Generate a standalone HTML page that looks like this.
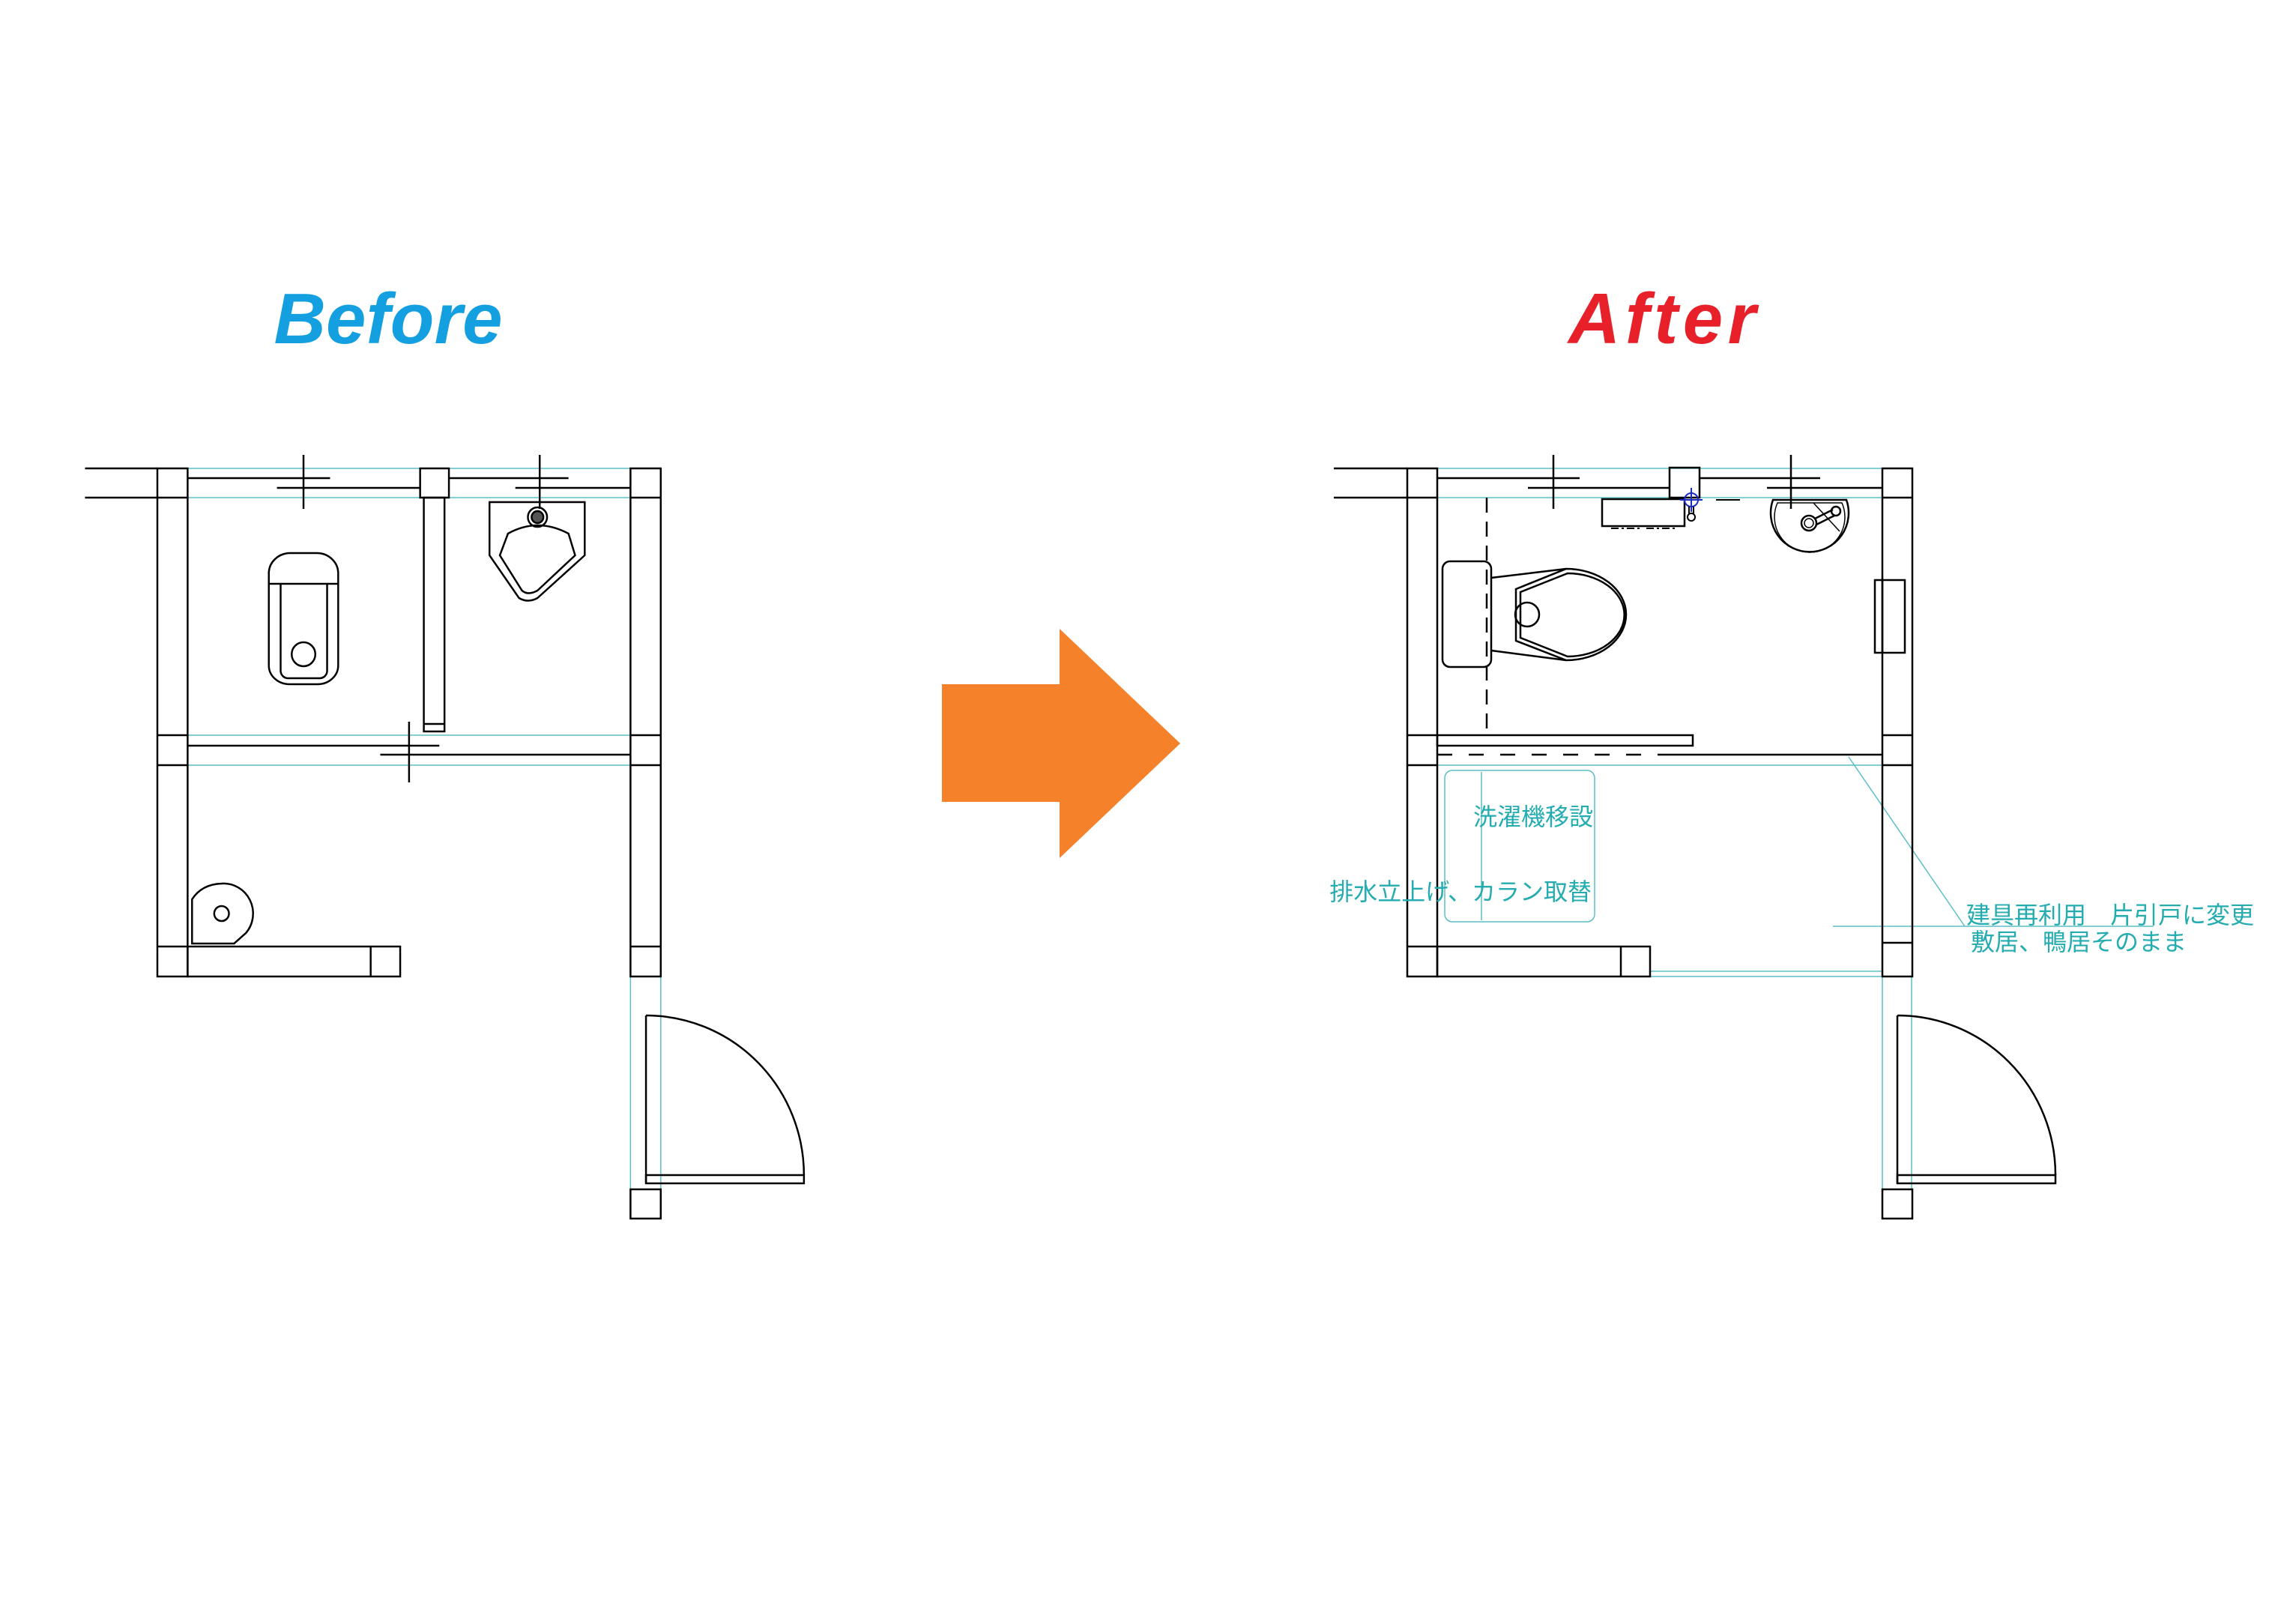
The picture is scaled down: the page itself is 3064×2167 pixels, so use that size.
<!DOCTYPE html>
<html><head><meta charset="utf-8"><style>
html,body{margin:0;padding:0;background:#fff;}
svg{display:block}
</style></head><body>
<svg width="3064" height="2167" viewBox="0 0 3064 2167" xmlns="http://www.w3.org/2000/svg">
<rect width="3064" height="2167" fill="#fff"/>
<!-- Titles -->
<text x="518" y="458" text-anchor="middle" font-family="Liberation Sans, sans-serif" font-weight="bold" font-style="italic" font-size="96" fill="#139fe0" textLength="305">Before</text>
<text x="2218" y="458" text-anchor="middle" font-family="Liberation Sans, sans-serif" font-weight="bold" font-style="italic" font-size="96" fill="#e8202a" textLength="250">After</text>
<!-- Arrow -->
<polygon points="1257,913 1414,913 1414,839 1575,992 1414,1145 1414,1070 1257,1070" fill="#f5822a"/>

<!-- BEFORE -->
<g transform="translate(3.15,0) scale(0.985,1)">
<g stroke="#5bbfc5" stroke-width="1.5" fill="none">
<line x1="251" y1="625" x2="851" y2="625"/><line x1="251" y1="664" x2="851" y2="664"/>
<line x1="251" y1="981" x2="851" y2="981"/><line x1="251" y1="1021" x2="851" y2="1021"/>
<line x1="851" y1="1303" x2="851" y2="1587"/><line x1="892" y1="1303" x2="892" y2="1587"/>
</g>
<g stroke="#000" stroke-width="2.5" fill="none">
<line x1="112" y1="625" x2="210" y2="625"/><line x1="112" y1="664" x2="210" y2="664"/>
<rect x="210" y="625" width="41" height="678"/>
<line x1="210" y1="664" x2="251" y2="664"/><line x1="210" y1="981" x2="251" y2="981"/><line x1="210" y1="1021" x2="251" y2="1021"/><line x1="210" y1="1263" x2="251" y2="1263"/>
<rect x="251" y="1263" width="288" height="40"/><line x1="499" y1="1263" x2="499" y2="1303"/>
<rect x="851" y="625" width="41" height="678"/>
<line x1="851" y1="664" x2="892" y2="664"/><line x1="851" y1="981" x2="892" y2="981"/><line x1="851" y1="1021" x2="892" y2="1021"/><line x1="851" y1="1263" x2="892" y2="1263"/>
<rect x="851" y="1587" width="41" height="39"/>
<line x1="251" y1="638" x2="444" y2="638"/><line x1="372" y1="651" x2="566" y2="651"/>
<line x1="605" y1="638" x2="767" y2="638"/><line x1="695" y1="651" x2="851" y2="651"/>
<line x1="408" y1="607" x2="408" y2="679"/><line x1="728" y1="607" x2="728" y2="679"/>
<rect x="566" y="625" width="39" height="39"/>
<rect x="571" y="664" width="28" height="312"/><line x1="571" y1="966" x2="599" y2="966"/>
<line x1="251" y1="995" x2="592" y2="995"/><line x1="512" y1="1007" x2="851" y2="1007"/>
<line x1="551" y1="963" x2="551" y2="1044"/>
<path d="M361,779 L361,765 A29,27 0 0 1 390,738 L426,738 A29,27 0 0 1 455,765 L455,888 A28,25 0 0 1 427,913 L389,913 A28,25 0 0 1 361,888 Z"/>
<line x1="361" y1="779" x2="455" y2="779"/>
<path d="M377,779 L377,895 A10,10 0 0 0 387,905 L430,905 A10,10 0 0 0 440,895 L440,779"/>
<circle cx="408" cy="873" r="16"/>
<path d="M660,670 L789,670 L789,741 L725,798 Q712,805 700,798 L660,741 Z"/>
<path d="M674,741 L685,712 Q725,690 767,712 L776,741 L725,788 Q712,795 704,788 Z"/>
<circle cx="725" cy="690" r="13"/><circle cx="725" cy="690" r="8" fill="#555"/>
<path d="M257,1259 L257,1200 Q270,1180 297,1179 A40,40 0 0 1 330,1245 L314,1259 Z"/>
<circle cx="297" cy="1219" r="10"/>
<path d="M872,1355 L872,1579"/><rect x="872" y="1568" width="214" height="11"/>
<path d="M872,1355 A214,213 0 0 1 1086,1568"/>
</g>
</g>

<!-- AFTER -->
<g stroke="#5bbfc5" stroke-width="1.5" fill="none">
<line x1="1918" y1="625" x2="2512" y2="625"/><line x1="1918" y1="664" x2="2512" y2="664"/>
<line x1="1918" y1="1021" x2="2512" y2="1021"/>
<line x1="2202" y1="1296" x2="2512" y2="1296"/><line x1="2202" y1="1303" x2="2512" y2="1303"/>
<line x1="2512" y1="1303" x2="2512" y2="1587"/><line x1="2551" y1="1303" x2="2551" y2="1587"/>
<rect x="1928" y="1028" width="200" height="202" rx="10"/>
<line x1="1977" y1="1030" x2="1977" y2="1228"/>
<line x1="2467" y1="1010" x2="2622" y2="1236"/>
<line x1="2446" y1="1236" x2="2874" y2="1236"/>
</g>
<g stroke="#000" stroke-width="2.5" fill="none">
<line x1="1780" y1="625" x2="1878" y2="625"/><line x1="1780" y1="664" x2="1878" y2="664"/>
<rect x="1878" y="625" width="40" height="678"/>
<line x1="1878" y1="664" x2="1918" y2="664"/><line x1="1878" y1="981" x2="1918" y2="981"/><line x1="1878" y1="1021" x2="1918" y2="1021"/><line x1="1878" y1="1263" x2="1918" y2="1263"/>
<rect x="1918" y="1263" width="284" height="40"/><line x1="2163" y1="1263" x2="2163" y2="1303"/>
<rect x="2512" y="625" width="40" height="678"/>
<line x1="2512" y1="664" x2="2552" y2="664"/><line x1="2512" y1="981" x2="2552" y2="981"/><line x1="2512" y1="1021" x2="2552" y2="1021"/><line x1="2512" y1="1258" x2="2552" y2="1258"/>
<rect x="2512" y="1587" width="40" height="39"/>
<line x1="1918" y1="638" x2="2108" y2="638"/><line x1="2039" y1="651" x2="2229" y2="651"/>
<line x1="2268" y1="638" x2="2429" y2="638"/><line x1="2358" y1="651" x2="2512" y2="651"/>
<line x1="2073" y1="607" x2="2073" y2="679"/><line x1="2390" y1="607" x2="2390" y2="679"/>
<rect x="2228" y="624" width="40" height="40"/>
<rect x="2138" y="666" width="110" height="36"/>
<line x1="2150" y1="705" x2="2190" y2="705" stroke-dasharray="10,4,3,4" stroke-width="2"/>
<line x1="2197" y1="705" x2="2237" y2="705" stroke-dasharray="10,4,3,4" stroke-width="2"/>
<line x1="2290" y1="667" x2="2322" y2="667" stroke-width="2"/>
<path d="M2366,667 L2464,667 A52,52 0 1,1 2366,667 Z"/>
<path d="M2372,671 L2458,671 A47,47 0 1,1 2372,671 Z" stroke-width="1.5"/>
<circle cx="2414" cy="698" r="10"/><circle cx="2414" cy="698" r="6" stroke-width="1.5"/>
<circle cx="2450" cy="682" r="6"/>
<line x1="2422" y1="692" x2="2446" y2="680"/><line x1="2424" y1="700" x2="2448" y2="688"/>
<line x1="2420" y1="671" x2="2455" y2="709" stroke-width="1.5"/>
<rect x="1925" y="749" width="65" height="141" rx="10"/>
<line x1="1990" y1="771" x2="2090" y2="759"/><line x1="1990" y1="868" x2="2090" y2="881"/>
<path d="M2023,786 L2090,759 A80,61 0 0 1 2090,881 L2023,855 Z"/>
<path d="M2029,790 L2092,765 A75,55 0 0 1 2092,876 L2029,851 Z"/>
<circle cx="2038" cy="820" r="16"/>
<line x1="1984" y1="664" x2="1984" y2="981" stroke-dasharray="20,12"/>
<rect x="2502" y="774" width="40" height="97"/><line x1="2512" y1="774" x2="2512" y2="871"/>
<rect x="1918" y="981" width="341" height="14"/>
<line x1="1918" y1="1007" x2="2229" y2="1007" stroke-dasharray="20,22"/>
<line x1="2229" y1="1007" x2="2512" y2="1007"/>
<path d="M2532,1355 L2532,1579"/><rect x="2532" y="1568" width="211" height="11"/>
<path d="M2532,1355 A211,213 0 0 1 2743,1568"/>
</g>
<g stroke="#1a2fc0" stroke-width="2" fill="none">
<circle cx="2257" cy="667" r="9"/>
<line x1="2242" y1="667" x2="2272" y2="667"/><line x1="2257" y1="651" x2="2257" y2="683"/>
</g>
<g stroke="#000" stroke-width="2" fill="none">
<line x1="2254" y1="676" x2="2254" y2="686"/><line x1="2260" y1="676" x2="2260" y2="686"/>
<circle cx="2257" cy="690" r="5"/>
</g>
<g font-family="Liberation Sans, 'Noto Sans CJK JP', sans-serif" font-size="32" fill="#25acb0">
<text x="2126" y="1101" text-anchor="end">洗濯機移設</text>
<text x="2124" y="1201" text-anchor="end">排水立上げ、カラン取替</text>
<text x="2624" y="1232">建具再利用　片引戸に変更</text>
<text x="2630" y="1268">敷居、鴨居そのまま</text>
</g>
</svg>
</body></html>
